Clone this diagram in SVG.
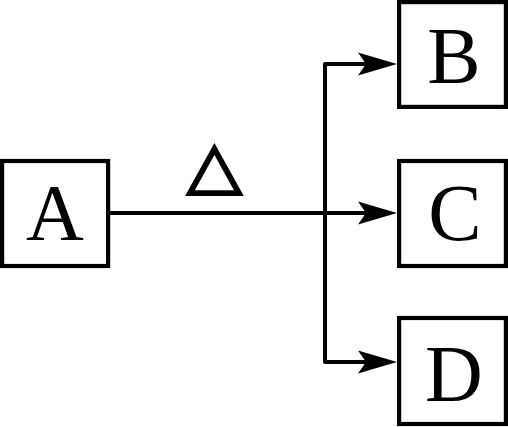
<svg xmlns="http://www.w3.org/2000/svg" width="508" height="427" viewBox="0 0 508 427">
<style>
.box{fill:#fff;stroke:#000;stroke-width:4.2}
.lbl{font-family:"Liberation Serif","Times New Roman",serif;font-size:80px;text-anchor:middle;fill:#000}
.wire{fill:none;stroke:#000;stroke-width:4;stroke-linejoin:round}
</style>
<defs>
<marker id="ah" viewBox="-11 -12 41 24" refX="0" refY="0" markerWidth="41" markerHeight="24" markerUnits="userSpaceOnUse" orient="auto">
<path d="M29,0 L-10,-11.5 L-2,0 L-10,11.5 Z" fill="#000"/>
</marker>
</defs>
<rect width="508" height="427" fill="#fff"/>
<g id="connectors">
<path class="wire" d="M108,213 H368" marker-end="url(#ah)"/>
<path class="wire" d="M325,213 V64 H368" marker-end="url(#ah)"/>
<path class="wire" d="M325,213 V362 H368" marker-end="url(#ah)"/>
<text x="214.5" y="185" transform="matrix(1 0 0 0.9 0 20.5)" font-family="DejaVu Sans, sans-serif" font-size="72" text-anchor="middle" fill="#000" stroke="#000" stroke-width="2.4">△</text>
</g>
<g id="node-A">
<rect class="box" x="2.1" y="161" width="106" height="105"/>
<text class="lbl" x="55" y="240">A</text>
</g>
<g id="node-B">
<rect class="box" x="399.1" y="2.1" width="106.8" height="104.8"/>
<text class="lbl" x="454" y="83">B</text>
</g>
<g id="node-C">
<rect class="box" x="399.1" y="161" width="106.8" height="105"/>
<text class="lbl" x="455" y="240">C</text>
</g>
<g id="node-D">
<rect class="box" x="399.1" y="318" width="106.8" height="106"/>
<text class="lbl" x="454" y="401">D</text>
</g>
</svg>
